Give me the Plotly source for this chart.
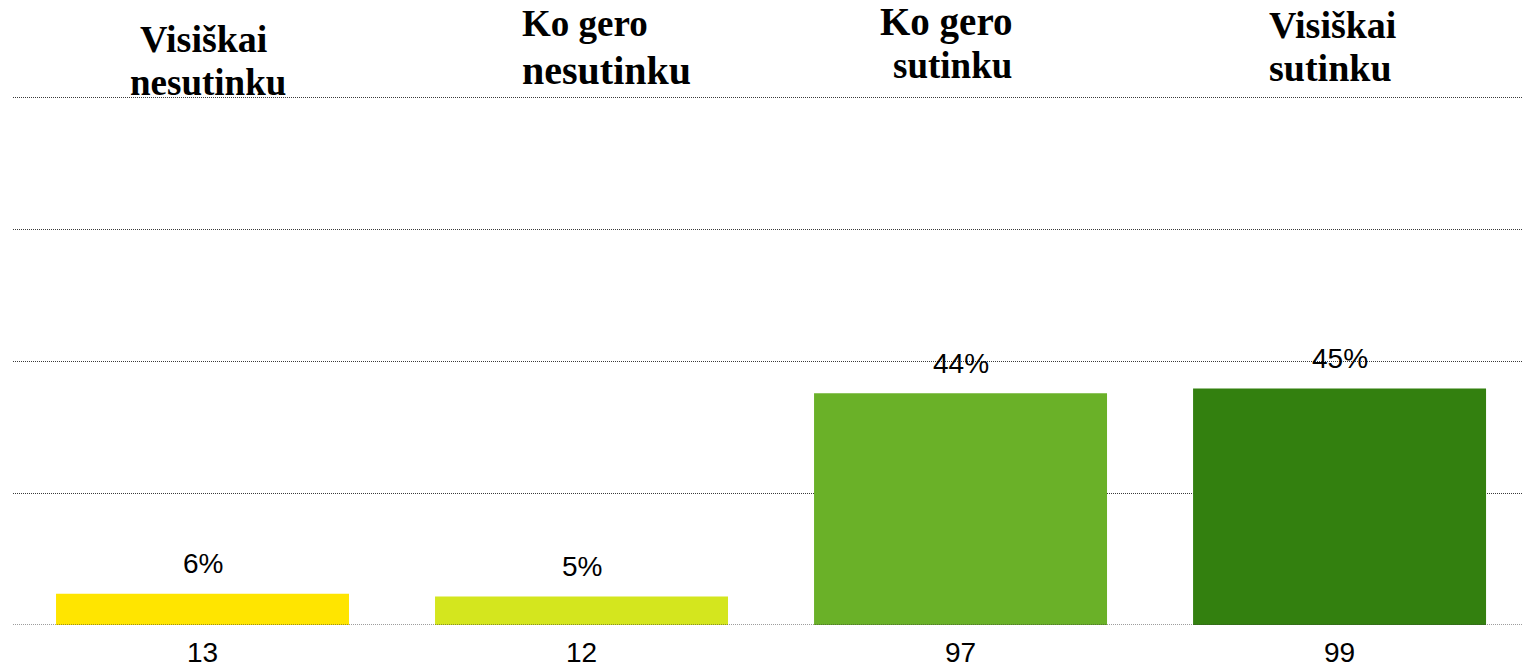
import plotly.graph_objects as go

# ---- data ----
categories = ["13", "12", "97", "99"]
percent_values = [5.9, 5.4, 43.9, 44.8]
value_labels = ["6%", "5%", "44%", "45%"]
title_line1 = ["Visiškai", "Ko gero", "Ko gero", "Visiškai"]
title_line2 = ["nesutinku", "nesutinku", "sutinku", "sutinku"]
bar_colors = ["#FFE500", "#D4E61E", "#6AB128", "#33800F"]

# ---- layout constants (pixels) ----
W, H = 1523, 671
Y_MAX = 101.0
BASE_PX = 625            # pixel row of y = 0
PX_PER_UNIT = 528 / 100  # 100 % spans 528 px
PLOT_H = PX_PER_UNIT * Y_MAX
PLOT_TOP = BASE_PX - PLOT_H

label_font = dict(family="Liberation Sans, Arial, sans-serif", size=28, color="#000000")
GRID_COLOR = "#3a3a3a"
GRID_DASH = "1px,1px"

fig = go.Figure()
fig.add_trace(go.Bar(
    x=categories,
    y=percent_values,
    marker=dict(color=bar_colors, line=dict(width=0)),
    hoverinfo="skip",
))

# title line offsets (xshift px, vertical middle in px from top, font size)
l1_shift = [0.5, 3, -14.5, -7]
l2_shift = [5, 24.5, -8, -9.5]
l1_mid = [39, 23, 22, 25]
l2_mid = [82, 70, 65, 68]
l1_size = [38, 37, 39, 38]
l2_size = [37, 40, 37, 38]


def tfont(size):
    return dict(family="Liberation Serif, Times New Roman, serif", size=size, color="#000000")


def paper_y(px):
    return (BASE_PX - px) / PLOT_H


annotations = []
for i, cat in enumerate(categories):
    annotations.append(dict(
        x=i, xref="x", y=paper_y(l1_mid[i]), yref="paper",
        text="<b>%s</b>" % title_line1[i], showarrow=False,
        xanchor="center", yanchor="middle", xshift=l1_shift[i], font=tfont(l1_size[i]),
    ))
    annotations.append(dict(
        x=i, xref="x", y=paper_y(l2_mid[i]), yref="paper",
        text="<b>%s</b>" % title_line2[i], showarrow=False,
        xanchor="center", yanchor="middle", xshift=l2_shift[i], font=tfont(l2_size[i]),
    ))
    annotations.append(dict(
        x=i, xref="x", y=percent_values[i], yref="y",
        text=value_labels[i], showarrow=False,
        xanchor="center", yanchor="middle", yshift=30, font=label_font,
    ))

fig.update_layout(
    width=W, height=H,
    margin=dict(l=13, r=0, t=PLOT_TOP, b=H - BASE_PX, pad=0),
    paper_bgcolor="white", plot_bgcolor="white",
    showlegend=False,
    bargap=0.227,
    annotations=annotations,
    shapes=[dict(type="line", xref="paper", x0=0, x1=1, yref="y", y0=0, y1=0,
                 line=dict(color=GRID_COLOR, width=1, dash=GRID_DASH), layer="above")],
    xaxis=dict(
        type="category", range=[-0.5, 3.484],
        showgrid=False, zeroline=False, showline=False, ticks="",
        tickfont=label_font, ticklabelstandoff=8,
    ),
    yaxis=dict(
        range=[0, Y_MAX], tickvals=[0, 25, 50, 75, 100], showticklabels=False,
        showgrid=True, gridcolor=GRID_COLOR, gridwidth=1, griddash=GRID_DASH,
        zeroline=False, showline=False, ticks="",
    ),
)

fig.write_html("out.html",
               config={"displayModeBar": False},
               post_script="document.body.style.margin='0';document.body.style.overflow='hidden';")
